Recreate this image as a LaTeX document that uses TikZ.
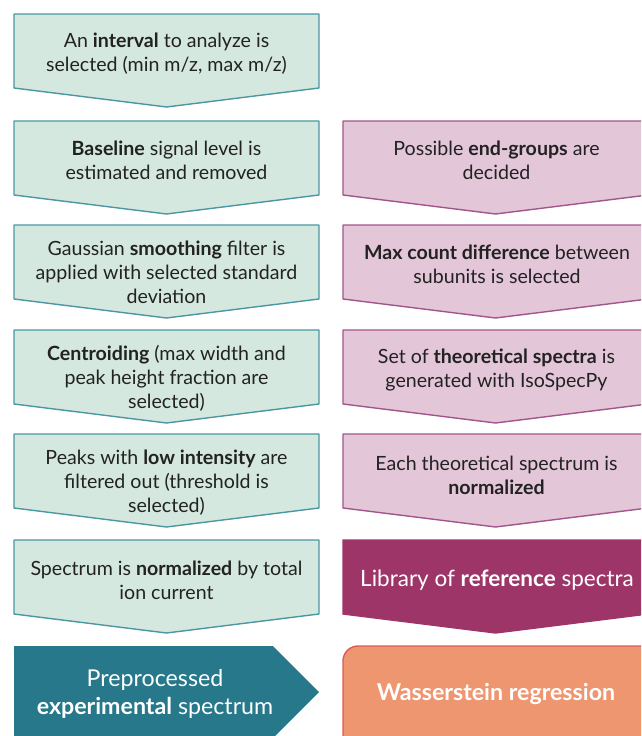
\documentclass[tikz,border=0pt]{standalone}
\usepackage{fontspec}
\setmainfont{Lato}
\usepackage{tikz}
\usetikzlibrary{positioning,calc}

\definecolor{stepgreen}{HTML}{D4E8DF}
\definecolor{edgegreen}{HTML}{4A97A3}
\definecolor{steppink}{HTML}{E3C6D8}
\definecolor{edgepink}{HTML}{A2558A}
\definecolor{libmagenta}{HTML}{9E3568}
\definecolor{prepteal}{HTML}{26788A}
\definecolor{regorange}{HTML}{EE9670}
\definecolor{edgeorange}{HTML}{DD5A55}
\definecolor{textgray}{HTML}{222222}

\tikzset{
  greenstep/.style={fill=stepgreen, draw=edgegreen, line width=1.4pt, line join=round},
  pinkstep/.style={fill=steppink, draw=edgepink, line width=1.4pt, line join=round},
  libstep/.style={fill=libmagenta, draw=libmagenta, line width=1.4pt},
  txt/.style={align=center, text=textgray, font=\fontsize{19.6}{24}\selectfont, inner sep=0pt, yshift=-2pt},
  bigtxt/.style={align=center, text=white, font=\fontsize{23.2}{28}\selectfont, inner sep=0pt, yshift=-2pt}
}

% chevron box: style, left x, top y
\newcommand{\chevron}[3]{%
  \draw[#1] (#2,#3) -- ++(305,0) -- ++(0,74) -- ++(-152.5,19) -- ++(-152.5,-19) -- cycle;}

\begin{document}
\begin{tikzpicture}[x=1pt, y=-1pt]
    \useasboundingbox (0,0) rectangle (641,736);
    \clip (0,0) rectangle (641,736);

    % Left column: preprocessing steps
    \foreach \y in {14, 121, 225, 330, 434, 540} {
        \chevron{greenstep}{14}{\y}
    }
    % Right column: theoretical spectra
    \foreach \y in {121, 225, 330, 434} {
        \chevron{pinkstep}{343}{\y}
    }
    \chevron{libstep}{343}{540}

    \node[txt] (interval) at (166.5,52) {An \textbf{interval} to analyze is\\selected (min m/z, max m/z)};
    \node[txt] (baseline) at (166.5,158) {\textbf{Baseline} signal level is\\estimated and removed};
    \node[txt] (smoothing) at (166.5,270) {Gaussian \textbf{smoothing} filter is\\applied with selected standard\\deviation};
    \node[txt] (centroid) at (166.5,376) {\textbf{Centroiding} (max width and\\peak height fraction are\\selected)};
    \node[txt] (lowint) at (166.5,481) {Peaks with \textbf{low intensity} are\\filtered out (threshold is\\selected)};
    \node[txt] (tic) at (166.5,578) {Spectrum is \textbf{normalized} by total\\ion current};

    \node[txt] (endgroups) at (496.5,158) {Possible \textbf{end-groups} are\\decided};
    \node[txt] (maxcount) at (497,262) {\textbf{Max count difference} between\\subunits is selected};
    \node[txt] (theory) at (496.5,368) {Set of \textbf{theoretical spectra} is\\generated with IsoSpecPy};
    \node[txt] (normal) at (496.5,473) {Each theoretical spectrum is\\\textbf{normalized}};
    \node[txt, text=white, font=\fontsize{22.5}{24}\selectfont] (library) at (497,578) {Library of \textbf{reference} spectra};

    % Bottom row
    \fill[prepteal] (14,646) -- (273,646) -- (319,692) -- (273,738) -- (14,738) -- cycle;
    \draw[fill=regorange, draw=edgeorange, line width=1.4pt, rounded corners=15pt]
        (343,646) rectangle (670,760);
    \node[bigtxt] (prep) at (155,692) {Preprocessed\\\textbf{experimental} spectrum};
    \node[bigtxt] (wass) at (496,692) {\textbf{Wasserstein regression}};
\end{tikzpicture}
\end{document}
